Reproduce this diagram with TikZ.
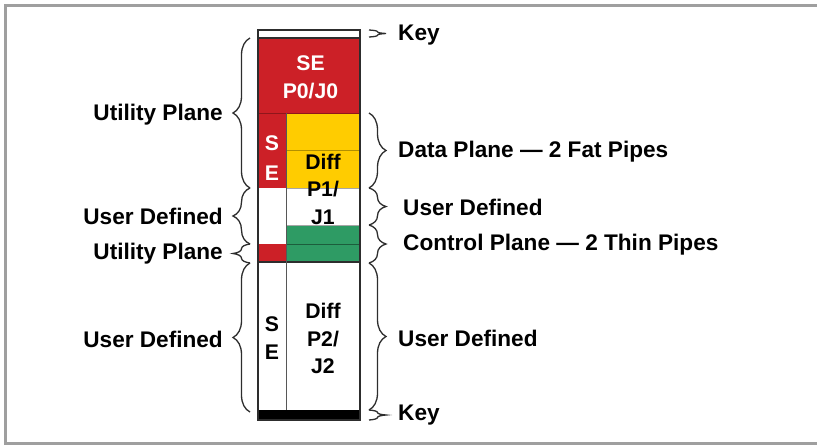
\documentclass[tikz,border=0pt]{standalone}
\usepackage{fontspec}
\setmainfont{Liberation Sans}
\usetikzlibrary{decorations.pathreplacing}
\definecolor{sred}{RGB}{204,32,39}
\definecolor{syel}{RGB}{255,204,0}
\definecolor{sgrn}{RGB}{46,155,100}
\definecolor{edge}{RGB}{45,45,45}
\begin{document}
\begin{tikzpicture}[x=1pt,y=-1pt,
  lbl/.style={font=\bfseries\fontsize{22.6}{27}\selectfont, inner sep=0pt},
  inlbl/.style={font=\bfseries\fontsize{21.2}{27.5}\selectfont, inner sep=0pt, align=center},
  brc/.style={decorate, decoration={brace, amplitude=17pt}, draw=edge, line width=1.3pt},
  sep/.style={draw=gray!70, line width=0.8pt}]
\useasboundingbox (0,0) rectangle (817,445);
% outer frame
\draw[gray!75, line width=3pt] (830,5.5) -- (5.5,5.5) -- (5.5,443) -- (830,443);

% segments
\fill[white] (258,30) rectangle (360,38);
\fill[sred] (258,38) rectangle (360,113);
\fill[sred] (258,113) rectangle (286,188);
\fill[syel] (286,113) rectangle (360,188);
\fill[white] (258,188) rectangle (286,244);
\fill[white] (286,188) rectangle (360,225);
\fill[sgrn] (286,225) rectangle (360,262);
\fill[sred] (258,244) rectangle (286,262);
\fill[white] (258,262) rectangle (360,410);
\fill[black] (258,410) rectangle (360,420);

% inner lines
\draw[draw=sred!70!black, line width=0.8pt] (258,113) -- (360,113);
\draw[draw=syel!70!black, line width=0.7pt] (286,150.5) -- (360,150.5);
\draw[sep] (286,188) -- (360,188);
\draw[sep] (286,225) -- (360,225);
\draw[draw=sgrn!60!black, line width=0.8pt] (286,244) -- (360,244);
\draw[draw=edge, line width=2pt] (258,262) -- (360,262);
\draw[draw=edge!80, line width=1pt] (286,113) -- (286,410);
\draw[draw=edge, line width=1.4pt] (258,38) -- (360,38);
\draw[draw=edge, line width=1.5pt] (258,30) rectangle (360,420);

% inner labels
\node[inlbl, text=white] (se0) at (310.5,77.5) {SE\\P0/J0};
\node[inlbl, text=white, font=\bfseries\fontsize{21.2}{29.5}\selectfont] (se1) at (272,158) {S\\E};
\node[inlbl] (d1) at (323,189) {Diff\\P1/\\J1};
\node[inlbl] (se2) at (272,338) {S\\E};
\node[inlbl] (d2) at (323,338.5) {Diff\\P2/\\J2};

% brace end points
\coordinate (la0) at (250,38);
\coordinate (la1) at (250,188);
\coordinate (la2) at (250,244);
\coordinate (la3) at (250,263);
\coordinate (la4) at (250,412);
\coordinate (rk0) at (369,30);
\coordinate (rk1) at (369,37);
\coordinate (ra0) at (369,113);
\coordinate (ra1) at (369,188);
\coordinate (ra2) at (369,225);
\coordinate (ra3) at (369,263);
\coordinate (ra4) at (369,410);
\coordinate (rk2) at (369,420);

% left braces (tip to the left)
\draw[brc] (la1) -- (la0);
\draw[brc] (la2) -- (la1);
\draw[brc] (la3) -- (la2);
\draw[brc] (la4) -- (la3);
% right braces (tip to the right)
\draw[brc] (rk0) -- (rk1);
\draw[brc] (ra0) -- (ra1);
\draw[brc] (ra1) -- (ra2);
\draw[brc] (ra2) -- (ra3);
\draw[brc] (ra3) -- (ra4);
\draw[brc] (ra4) -- (rk2);

% left labels
\node[lbl, anchor=east] (lu1) at (223,115) {Utility Plane};
\node[lbl, anchor=east] (ld1) at (223,216) {User Defined};
\node[lbl, anchor=east] (lu2) at (223,254) {Utility Plane};
\node[lbl, anchor=east] (ld2) at (223,339) {User Defined};
% right labels
\node[lbl, anchor=west] (rk) at (398,35) {Key};
\node[lbl, anchor=west] (rd) at (398,152) {Data Plane — 2 Fat Pipes};
\node[lbl, anchor=west] (ru1) at (403,207) {User Defined};
\node[lbl, anchor=west] (rc) at (403,245) {Control Plane — 2 Thin Pipes};
\node[lbl, anchor=west] (ru2) at (398,338) {User Defined};
\node[lbl, anchor=west] (rkb) at (398,415) {Key};
\end{tikzpicture}
\end{document}
